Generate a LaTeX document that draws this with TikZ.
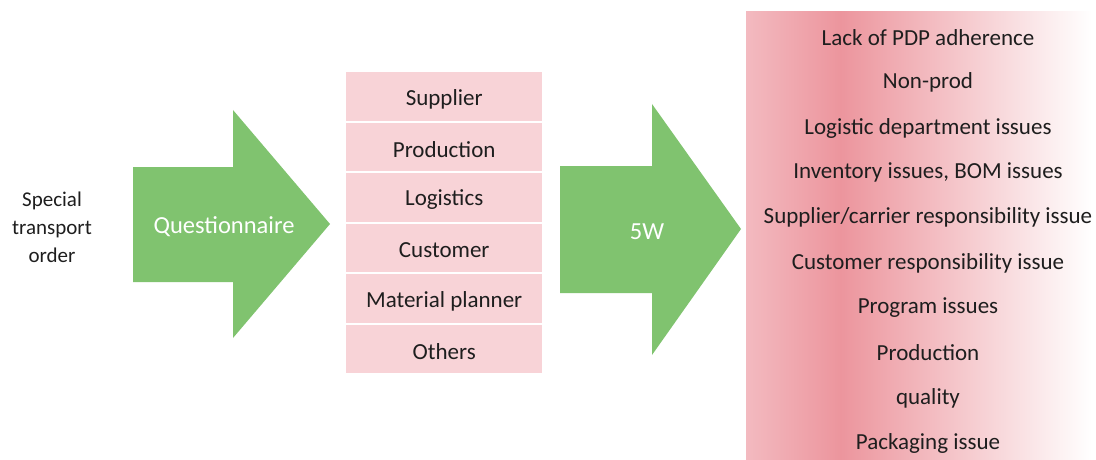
\documentclass[tikz,border=0pt]{standalone}
\usepackage{fontspec}
\setmainfont{Carlito}
\definecolor{arrowgreen}{HTML}{80C36F}
\definecolor{boxpink}{HTML}{F8D3D7}
\definecolor{gradlight}{HTML}{F3BAC0}
\definecolor{graddark}{HTML}{EC959D}
\definecolor{txt}{HTML}{1E1E1E}
\begin{document}
\begin{tikzpicture}[x=1pt,y=-1pt,
  every node/.style={text=txt,font=\fontsize{23}{27}\selectfont,inner sep=0pt},
  catbox/.style={fill=boxpink,draw=none,minimum width=196pt,minimum height=48.5pt,anchor=north west},
  bigarrow/.style={fill=arrowgreen,draw=none},
  lbl/.style={yshift=-2.5pt},
  arrowlabel/.style={lbl,text=white,font=\fontsize{24.5}{28}\selectfont},
  causetext/.style={lbl,anchor=center}
]
\useasboundingbox (0,0) rectangle (1096,460);
% gradient box
\shade[left color=gradlight,right color=graddark,draw=none] (746,12) rectangle (841,460);
\shade[left color=graddark,right color=white,draw=none] (840.5,12) rectangle (1092,460);
% input text
\node[lbl,align=center,font=\fontsize{21}{28}\selectfont] (sto) at (52,225) {Special\\transport\\order};
% arrow 1
\fill[bigarrow] (133,167) -- (233,167) -- (233,110) -- (330,224) -- (233,338) -- (233,282) -- (133,282) -- cycle;
\node[arrowlabel] (q) at (224,224) {Questionnaire};
% category boxes
\node[catbox] (b1) at (346,72) {};
\node[catbox] (b2) at (346,122.5) {};
\node[catbox] (b3) at (346,173) {};
\node[catbox] (b4) at (346,223.5) {};
\node[catbox] (b5) at (346,274) {};
\node[catbox] (b6) at (346,324.5) {};
\node[lbl] (t1) at (b1.center) {Supplier};
\node[lbl] (t2) at (b2.center) {Production};
\node[lbl] (t3) at (b3.center) {Logistics};
\node[lbl] (t4) at (b4.center) {Customer};
\node[lbl] (t5) at (b5.center) {Material planner};
\node[lbl] (t6) at (b6.center) {Others};
% arrow 2
\fill[bigarrow] (560,166) -- (652,166) -- (652,104) -- (741,229) -- (652,355) -- (652,293) -- (560,293) -- cycle;
\node[arrowlabel] (w) at (647,229) {5W};
% causes
\node[causetext] (c1) at (928,35) {Lack of PDP adherence};
\node[causetext] (c2) at (928,80) {Non-prod};
\node[causetext] (c3) at (928,126) {Logistic department issues};
\node[causetext] (c4) at (928,170) {Inventory issues, BOM issues};
\node[causetext] (c5) at (928,215) {Supplier/carrier responsibility issue};
\node[causetext] (c6) at (928,261) {Customer responsibility issue};
\node[causetext] (c7) at (928,305) {Program issues};
\node[causetext] (c8) at (928,350) {Production};
\node[causetext] (c9) at (928,396) {quality};
\node[causetext] (c10) at (928,441) {Packaging issue};
\end{tikzpicture}
\end{document}
